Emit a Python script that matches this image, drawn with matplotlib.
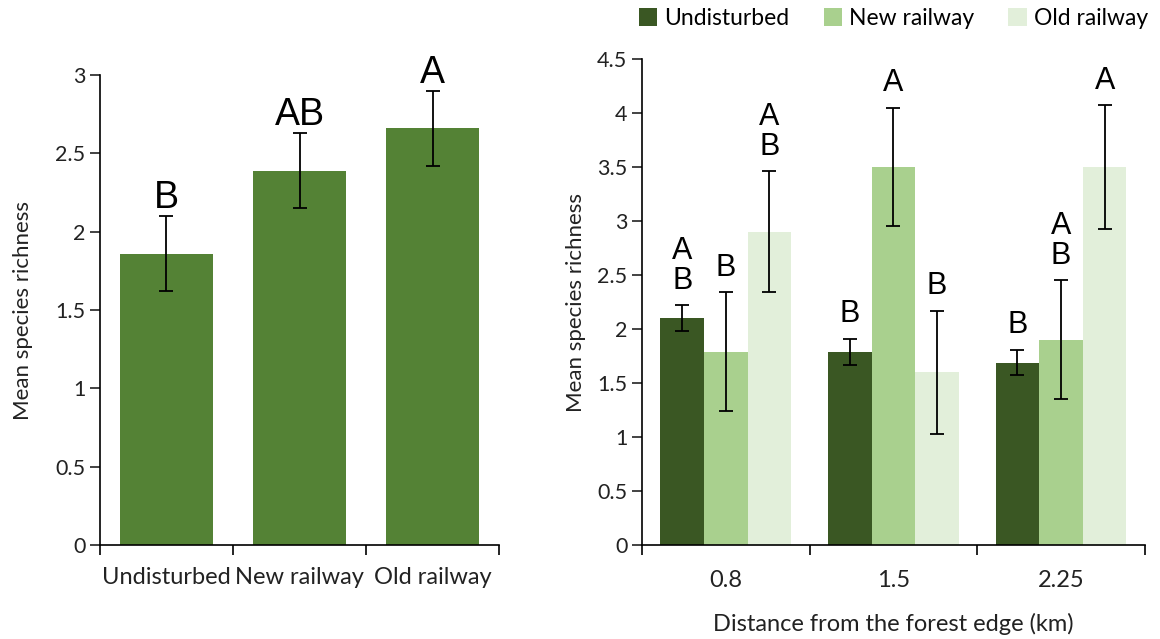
import matplotlib.pyplot as plt
import numpy as np

# Left panel: overall mean species richness per habitat
habitats = ['Undisturbed', 'New railway', 'Old railway']
overall_mean = [1.86, 2.39, 2.66]
overall_err = [0.24, 0.24, 0.24]
overall_letters = ['B', 'AB', 'A']

# Right panel: by distance from forest edge
distances = ['0.8', '1.5', '2.25']
undisturbed = [2.10, 1.79, 1.69]
undisturbed_err = [0.12, 0.12, 0.12]
new_railway = [1.79, 3.50, 1.90]
new_railway_err = [0.55, 0.55, 0.55]
old_railway = [2.90, 1.60, 3.50]
old_railway_err = [0.56, 0.57, 0.57]
letters = {
    'Undisturbed': ['A\nB', 'B', 'B'],
    'New railway': ['B', 'A', 'A\nB'],
    'Old railway': ['A\nB', 'B', 'A'],
}

colors = {'Undisturbed': '#3a5723', 'New railway': '#a9d08e', 'Old railway': '#e2efda'}
tick_color = '#222222'
plt.rcParams['font.family'] = ['Lato', 'DejaVu Sans']

fig = plt.figure(figsize=(11.6, 6.39), dpi=100)
ax1 = fig.add_axes([0.0862, 0.147, 0.344, 0.7355])
ax2 = fig.add_axes([0.5534, 0.147, 0.4336, 0.7606])

# ---- left panel
x = np.arange(len(habitats))
ax1.bar(x, overall_mean, width=0.7, color='#548235')
ax1.errorbar(x, overall_mean, yerr=overall_err, fmt='none', ecolor='black',
             elinewidth=1.3, capsize=5, capthick=1.3)
for xi, m, e, lab in zip(x, overall_mean, overall_err, overall_letters):
    ax1.text(xi, m + e + 0.0, lab, ha='center', va='bottom', fontsize=27,
             family='Liberation Sans')
ax1.set_xlim(-0.5, 2.5)
ax1.set_ylim(0, 3)
ax1.set_yticks(np.arange(0, 3.01, 0.5))
ax1.set_yticklabels(['0', '0.5', '1', '1.5', '2', '2.5', '3'])
ax1.set_xticks(x)
ax1.set_xticklabels(habitats)
ax1.set_xticks([-0.5, 0.5, 1.5, 2.5], minor=True)
ax1.tick_params(axis='x', which='major', length=0, pad=16, labelsize=17, colors=tick_color)
ax1.tick_params(axis='x', which='minor', length=7, width=1.2)
ax1.tick_params(axis='y', length=7, width=1.2, labelsize=15.5, colors=tick_color)
ax1.set_ylabel('Mean species richness', fontsize=16, color=tick_color, labelpad=16)

# ---- right panel
x = np.arange(len(distances))
w = 0.26
series = [('Undisturbed', undisturbed, undisturbed_err),
          ('New railway', new_railway, new_railway_err),
          ('Old railway', old_railway, old_railway_err)]
for i, (name, vals, errs) in enumerate(series):
    pos = x + (i - 1) * w
    ax2.bar(pos, vals, width=w, color=colors[name], label=name)
    ax2.errorbar(pos, vals, yerr=errs, fmt='none', ecolor='black',
                 elinewidth=1.3, capsize=5, capthick=1.3)
    for p, v, e, lab in zip(pos, vals, errs, letters[name]):
        ax2.text(p, v + e + 0.09, lab, ha='center', va='bottom', fontsize=22,
                 family='Liberation Sans', linespacing=1.0)
ax2.set_xlim(-0.5, 2.5)
ax2.set_ylim(0, 4.5)
ax2.set_yticks(np.arange(0, 4.51, 0.5))
ax2.set_yticklabels(['0', '0.5', '1', '1.5', '2', '2.5', '3', '3.5', '4', '4.5'])
ax2.set_xticks(x)
ax2.set_xticklabels(distances)
ax2.set_xticks([-0.5, 0.5, 1.5, 2.5], minor=True)
ax2.tick_params(axis='x', which='major', length=0, pad=18, labelsize=17, colors=tick_color)
ax2.tick_params(axis='x', which='minor', length=7, width=1.2)
ax2.tick_params(axis='y', length=7, width=1.2, labelsize=15.5, colors=tick_color)
ax2.set_ylabel('Mean species richness', fontsize=16, color=tick_color, labelpad=8)
ax2.set_xlabel('Distance from the forest edge (km)', fontsize=17, color=tick_color, labelpad=16)
ax2.legend(loc='lower center', bbox_to_anchor=(0.5, 1.02), ncol=3, frameon=False,
           fontsize=16.5, handlelength=0.8, handleheight=0.8, handletextpad=0.3,
           columnspacing=1.5)

for ax in (ax1, ax2):
    ax.spines['top'].set_visible(False)
    ax.spines['right'].set_visible(False)
    ax.spines['left'].set_linewidth(1.2)
    ax.spines['bottom'].set_linewidth(1.2)

plt.savefig('out.png', dpi=100)
